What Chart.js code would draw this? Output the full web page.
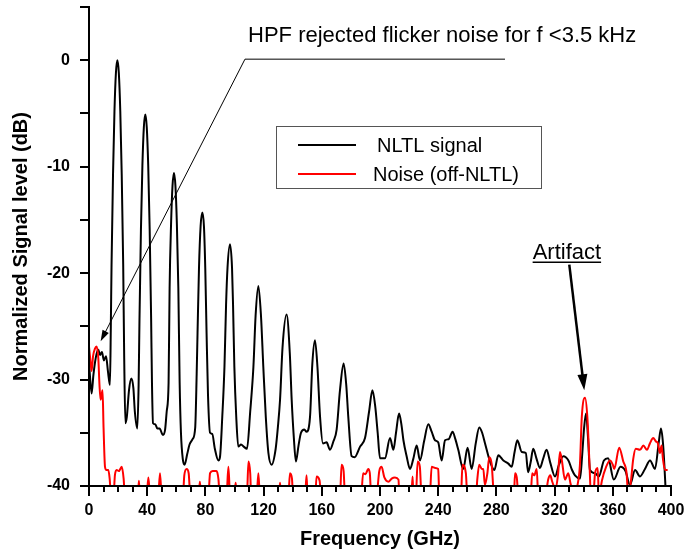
<!DOCTYPE html>
<html>
<head>
<meta charset="utf-8">
<script src="https://cdn.jsdelivr.net/npm/chart.js@4.4.1/dist/chart.umd.min.js"></script>
<style>
  body { margin: 0; background: #fff; }
  #wrap { width: 690px; height: 553px; }
</style>
</head>
<body>
<div id="wrap"><canvas id="chartSpec" width="690" height="553"></canvas></div>
<script>
// NLTL signal (black)
var signalFreq = [0.2, 1.8, 3.0, 4.1, 5.2, 6.4, 7.6, 8.9, 10.2, 11.7, 13.0, 14.4,
    15.0, 15.5, 16.5, 17.5, 18.5, 19.5, 20.5, 21.5, 22.5, 23.5, 24.2, 25.0,
    26.0, 27.5, 29.1, 30.5, 31.5, 33.2,
    34.1, 34.7, 35.7, 36.7, 37.7, 38.7, 39.7, 40.7, 41.7, 42.7, 43.3, 44.0,
    45.5, 47.0, 48.5, 50.8, 52.3, 53.4,
    54.7, 55.4, 56.4, 57.4, 58.4, 59.4, 60.4, 61.4, 62.3, 63.2,
    64.5, 65.7, 67.5, 69.1, 71.2, 73.0,
    74.0, 74.6, 75.6, 76.7, 77.9, 79.0, 79.9, 80.8, 81.8, 83.2,
    84.7, 86.5, 88.9, 90.0, 91.6,
    93.1, 94.2, 95.2, 96.9, 98.3, 99.0, 99.9, 101.2, 102.6,
    104.5, 106.3, 108.6, 110.8, 113.0, 114.5, 116.4, 118.2, 119.8, 121.5, 123.3,
    125.5, 128.3, 129.8, 131.3, 133.0, 135.8, 138.0, 139.3, 140.8, 142.2,
    144.0, 145.7, 148.0, 149.5, 151.9, 153.5, 155.3, 157.0, 158.8, 160.8,
    163.3, 165.6, 168.0, 170.2, 172.5, 175.0, 176.8, 178.2, 180.5, 182.5,
    186.3, 189.7, 192.5, 194.8, 196.7, 198.4, 200.0, 203.4, 206.9, 209.2,
    211.0, 213.1, 214.8, 216.1, 218.3, 220.6, 222.8, 225.2, 227.5, 230.3,
    233.2, 235.5, 237.8, 240.0, 242.4, 244.7, 247.2, 249.9, 251.8, 253.8,
    257.2, 260.2, 263.0, 265.8, 268.2, 270.2, 272.2, 275.6, 278.6, 281.3,
    284.8, 288.2, 290.5, 292.5, 294.4, 297.4, 300.2, 301.8, 303.5, 305.3,
    307.5, 309.9, 312.0, 314.5, 317.0, 320.3, 323.0, 326.0, 329.5, 332.0,
    334.0, 337.5, 339.0, 340.3, 341.6, 343.0, 344.3, 347.8, 350.4, 353.9,
    356.8, 360.7, 365.3, 368.7, 371.8, 375.3, 378.7, 382.1, 385.6, 389.0,
    391.5, 393.1, 394.5, 396.0, 396.5];
var signalLevel = [-28.8, -31.3, -29.6, -28.4, -27.6, -27.2, -27.7, -27.4, -28.2, -27.8, -29.2, -30.5,
    -25.0, -19.2, -10.8, -4.8, -1.2, 0.0, -1.2, -4.8, -10.8, -19.2, -28.0, -34.1,
    -33.5, -31.0, -29.9, -30.8, -33.0, -34.6,
    -30.5, -24.3, -15.9, -9.9, -6.3, -5.1, -6.3, -9.9, -15.9, -24.3, -30.5, -34.1,
    -34.2, -34.6, -34.6, -35.2, -34.7, -33.0,
    -30.3, -21.4, -15.4, -11.8, -10.6, -11.8, -15.4, -21.4, -30.3, -35.0,
    -37.5, -38.0, -37.0, -36.1, -35.6, -34.5,
    -29.5, -25.6, -19.5, -15.6, -14.3, -15.6, -19.5, -25.6, -31.5, -35.0,
    -35.1, -36.5, -37.6, -37.3, -33.5,
    -28.8, -23.0, -19.5, -17.3, -19.5, -23.0, -28.8, -33.5, -36.3,
    -36.1, -36.3, -36.5, -33.0, -28.8, -24.0, -21.2, -24.0, -28.8, -33.5, -36.9,
    -38.0, -36.5, -34.5, -31.9, -27.0, -23.9, -27.5, -31.9, -35.5, -37.7,
    -36.2, -35.0, -34.7, -34.9, -33.5, -28.5, -26.3, -28.8, -33.5, -36.0,
    -35.9, -36.6, -35.8, -34.7, -31.0, -28.5, -30.5, -33.5, -37.2, -37.3,
    -36.3, -35.5, -33.0, -31.0, -32.5, -35.0, -37.4, -37.4, -35.5, -36.6,
    -35.0, -33.2, -34.3, -35.7, -37.2, -38.4, -37.5, -36.2, -37.6, -35.8,
    -34.2, -34.9, -35.7, -35.9, -37.6, -35.7, -35.6, -34.9, -35.6, -36.6,
    -38.4, -36.4, -38.4, -36.0, -34.5, -35.0, -36.0, -37.7, -38.5, -37.1,
    -37.6, -37.9, -38.2, -36.8, -35.7, -36.8, -36.9, -38.7, -37.8, -36.5,
    -37.4, -38.3, -37.5, -36.6, -37.8, -39.1, -38.0, -37.2, -37.6, -38.5,
    -39.0, -39.3, -37.0, -34.5, -33.2, -35.5, -38.5, -38.8, -39.1, -37.6,
    -37.4, -39.4, -38.2, -38.6, -39.9, -38.5, -39.1, -38.4, -37.6, -38.4,
    -36.0, -34.6, -36.0, -39.5, -41.0];

// Noise (off-NLTL) (red) - values below -40 fall under the axis
var noiseFreq = [0.0, 0.8, 1.8, 2.8, 4.1, 5.2, 6.4, 7.2, 8.0, 8.6, 9.3, 10.0,
    11.0, 12.0, 13.3, 14.2, 15.2, 16.8, 17.8, 19.0, 20.5, 22.5, 23.8, 24.7,
    33.6, 34.3, 35.0, 39.6, 40.8, 42.0, 47.5, 48.8, 50.0,
    64.5, 65.5, 67.1, 68.5, 69.7, 75.2, 76.2, 77.2,
    82.0, 83.2, 85.0, 87.6, 89.0, 89.8, 94.5, 95.8, 97.0, 99.8, 100.8, 101.6,
    108.5, 109.6, 110.8, 111.5, 115.2, 116.4, 117.5, 130.5, 131.3, 132.0,
    137.0, 138.1, 139.5, 140.3, 148.5, 149.5, 150.3, 155.5, 156.4, 158.5, 159.5,
    172.5, 173.6, 175.0, 176.0, 187.0, 188.4, 190.0, 191.9, 193.0, 194.0,
    197.5, 199.5, 201.1, 203.0, 205.8, 208.0, 210.3, 212.7, 213.3,
    221.5, 222.4, 223.0, 224.6, 225.9, 227.4, 228.6, 234.2, 235.5, 238.0, 240.0, 240.8,
    255.6, 256.7, 259.0, 260.1, 266.0, 266.8, 268.2, 270.0, 271.0, 272.1,
    273.8, 275.1, 276.7, 278.5, 292.0, 292.8, 294.0, 295.2,
    303.5, 304.6, 306.0, 307.7, 308.8, 313.5, 315.6, 317.0, 318.4, 320.6,
    322.3, 323.7, 325.0, 327.1, 329.4, 331.0, 333.0, 335.9, 337.4, 338.7,
    340.9, 342.5, 344.0, 345.0, 346.5, 347.8, 349.6, 350.5, 352.5, 355.4,
    358.1, 360.0, 361.0, 364.4, 367.2, 369.4, 370.7, 372.5, 374.0, 375.8,
    378.7, 381.0, 383.5, 385.5, 387.8, 389.5, 391.0, 392.4, 393.5, 394.5,
    395.9, 397.7];
var noiseLevel = [-26.9, -28.0, -29.2, -27.8, -27.1, -26.9, -28.0, -30.5, -31.9, -31.5, -31.0, -34.5,
    -38.2, -38.5, -38.5, -39.3, -41.0, -41.0, -39.0, -38.5, -38.6, -38.2, -39.3, -41.0,
    -41.0, -39.5, -41.0, -41.0, -39.2, -41.0, -41.0, -38.8, -41.0,
    -41.0, -39.0, -38.4, -38.8, -41.0, -41.0, -39.6, -41.0,
    -41.0, -38.8, -38.6, -38.6, -39.4, -41.0, -41.0, -38.2, -41.0, -41.0, -39.7, -41.0,
    -41.0, -37.7, -38.8, -41.0, -41.0, -38.8, -41.0, -41.0, -39.7, -41.0,
    -41.0, -38.8, -39.3, -41.0, -41.0, -39.0, -41.0, -41.0, -39.1, -39.5, -41.0,
    -41.0, -38.0, -38.6, -41.0, -41.0, -38.8, -38.9, -38.4, -38.8, -41.0,
    -41.0, -38.6, -38.2, -39.2, -39.6, -39.3, -39.2, -39.4, -41.0,
    -41.0, -39.1, -41.0, -41.0, -37.7, -38.2, -41.0, -41.0, -38.2, -38.3, -38.4, -41.0,
    -41.0, -38.0, -38.8, -41.0, -41.0, -39.5, -38.0, -38.4, -38.4, -39.9,
    -38.8, -37.3, -37.9, -41.0, -41.0, -38.8, -39.2, -41.0,
    -41.0, -38.8, -39.0, -38.4, -41.0, -41.0, -39.4, -39.0, -39.6, -40.3,
    -39.0, -36.8, -37.6, -39.4, -38.8, -39.8, -40.6, -39.8, -38.0, -33.5,
    -31.7, -33.5, -38.0, -41.0, -41.0, -38.8, -38.3, -41.0, -39.5, -38.2,
    -37.6, -38.0, -38.4, -36.4, -37.7, -38.7, -41.0, -39.5, -37.5, -36.5,
    -36.6, -36.2, -36.6, -36.0, -35.5, -35.8, -36.0, -36.9, -36.2, -37.5,
    -38.5, -38.5];

var freqLabels = [0, 40, 80, 120, 160, 200, 240, 280, 320, 360, 400];
var levelLabels = [0, -10, -20, -30, -40];

var FONT = "'Liberation Sans', Arial, sans-serif";
Chart.defaults.font.family = FONT;
Chart.defaults.color = '#000';

function toPoints(xs, ys) {
    return xs.map(function (x, i) { return { x: x, y: ys[i] }; });
}

// arrow with filled head, tip at (x2, y2)
function drawArrow(ctx, x1, y1, x2, y2, headLen, headHalf, width) {
    var a = Math.atan2(y2 - y1, x2 - x1);
    var c = Math.cos(a), s = Math.sin(a);
    ctx.lineWidth = width;
    ctx.beginPath();
    ctx.moveTo(x1, y1);
    ctx.lineTo(x2 - c * headLen * 0.7, y2 - s * headLen * 0.7);
    ctx.stroke();
    ctx.beginPath();
    ctx.moveTo(x2, y2);
    ctx.lineTo(x2 - c * headLen + s * headHalf, y2 - s * headLen - c * headHalf);
    ctx.lineTo(x2 - c * headLen - s * headHalf, y2 - s * headLen + c * headHalf);
    ctx.closePath();
    ctx.fill();
}

var notesPlugin = {
    id: 'notes',
    afterDraw: function (chart) {
        var ctx = chart.ctx;
        var xs = chart.scales.x, ys = chart.scales.y;
        var px = function (v) { return xs.getPixelForValue(v); };
        var py = function (v) { return ys.getPixelForValue(v); };
        ctx.save();
        ctx.fillStyle = '#000';
        ctx.strokeStyle = '#000';

        // HPF note with leader line
        ctx.font = '22px ' + FONT;
        ctx.textBaseline = 'alphabetic';
        ctx.textAlign = 'left';
        ctx.fillText('HPF rejected flicker noise for f <3.5 kHz', px(109.3), py(1.7));
        ctx.lineWidth = 1;
        ctx.beginPath();
        ctx.moveTo(px(285.9), py(0.1));
        ctx.lineTo(px(107.2), py(0.1));
        ctx.stroke();
        drawArrow(ctx, px(107.2), py(0.1), px(8.0), py(-26.4), 11, 3.5, 1);

        // Artifact note
        ctx.font = '22px ' + FONT;
        var ax = px(304.9), ay = py(-18.7);
        ctx.fillText('Artifact', ax, ay);
        var w = ctx.measureText('Artifact').width;
        ctx.lineWidth = 1.5;
        ctx.beginPath();
        ctx.moveTo(ax, ay + 3);
        ctx.lineTo(ax + w, ay + 3);
        ctx.stroke();
        drawArrow(ctx, px(330.1), py(-19.2), px(340.4), py(-31.0), 16, 5, 2.5);

        // legend box
        var ds = chart.data.datasets;
        ctx.lineWidth = 1;
        ctx.strokeStyle = '#555';
        ctx.strokeRect(276.5, 126.5, 265, 62);
        ctx.font = '20px ' + FONT;
        ctx.textBaseline = 'middle';
        var rows = [{ y: 145, tx: 377 }, { y: 174, tx: 373 }];
        rows.forEach(function (r, i) {
            ctx.strokeStyle = ds[i].borderColor;
            ctx.lineWidth = 2;
            ctx.beginPath();
            ctx.moveTo(298, r.y);
            ctx.lineTo(356, r.y);
            ctx.stroke();
            ctx.fillStyle = '#000';
            ctx.fillText(ds[i].label, r.tx, r.y + 1);
        });
        ctx.restore();
    }
};

var specChart = new Chart(document.getElementById('chartSpec'), {
    type: 'line',
    data: {
        datasets: [
            {
                label: 'NLTL signal',
                data: toPoints(signalFreq, signalLevel),
                borderColor: '#000000',
                borderWidth: 2,
                pointRadius: 0,
                cubicInterpolationMode: 'monotone',
                clip: 0,
                order: 1
            },
            {
                label: 'Noise (off-NLTL)',
                data: toPoints(noiseFreq, noiseLevel),
                borderColor: '#ff0000',
                borderWidth: 2,
                pointRadius: 0,
                cubicInterpolationMode: 'monotone',
                clip: 0,
                order: 0
            }
        ]
    },
    options: {
        responsive: false,
        animation: false,
        layout: { padding: { top: 7, right: 19, left: 0, bottom: 0 } },
        plugins: {
            legend: { display: false },
            tooltip: { enabled: false }
        },
        scales: {
            x: {
                type: 'linear',
                min: 0,
                max: 400,
                afterFit: function (s) { s.height = 67; s.paddingLeft = 0; s.paddingRight = 0; },
                ticks: {
                    stepSize: 10,
                    autoSkip: false,
                    maxRotation: 0,
                    padding: 5,
                    font: { size: 16, weight: 'bold' },
                    callback: function (v) { return freqLabels.indexOf(v) >= 0 ? String(v) : ''; }
                },
                grid: {
                    drawOnChartArea: false,
                    drawTicks: true,
                    tickLength: 10,
                    lineWidth: 2,
                    color: '#000',
                    tickBorderDash: function (c) {
                        return (c.tick && c.tick.value % 40 === 0) ? [] : [5, 30];
                    }
                },
                border: { display: true, color: '#000', width: 2, z: 1 },
                title: {
                    display: true,
                    text: 'Frequency (GHz)',
                    font: { size: 20, weight: 'bold' },
                    padding: { top: 0, bottom: 2 }
                }
            },
            y: {
                min: -40,
                max: 5,
                afterFit: function (s) { s.width = 89; s.paddingTop = 0; s.paddingBottom = 0; },
                ticks: {
                    stepSize: 5,
                    autoSkip: false,
                    padding: 10,
                    font: { size: 16, weight: 'bold' },
                    callback: function (v) { return levelLabels.indexOf(v) >= 0 ? String(v) : ''; }
                },
                grid: {
                    drawOnChartArea: false,
                    drawTicks: true,
                    tickLength: 9,
                    lineWidth: 2,
                    color: '#000'
                },
                border: { display: true, color: '#000', width: 2, z: 1 },
                title: {
                    display: true,
                    text: 'Normalized Signal level (dB)',
                    font: { size: 20, weight: 'bold' },
                    padding: { top: 9, bottom: 0 }
                }
            }
        }
    },
    plugins: [notesPlugin]
});
</script>
</body>
</html>
